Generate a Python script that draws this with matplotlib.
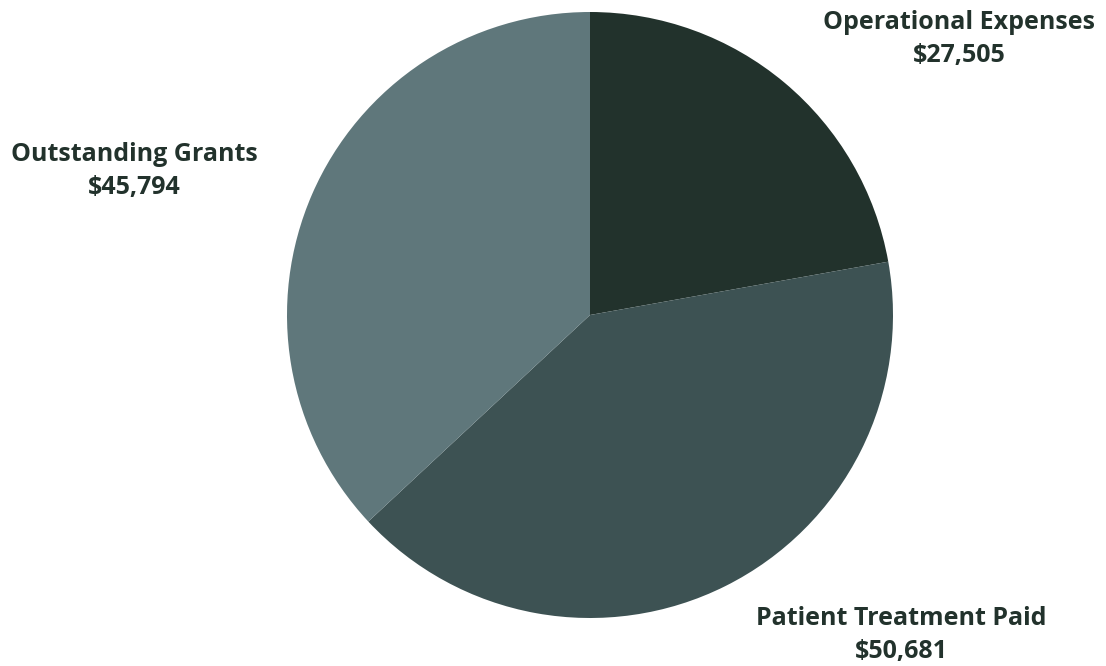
import matplotlib.pyplot as plt

# Data
CATEGORIES = ["Operational Expenses", "Patient Treatment Paid", "Outstanding Grants"]
AMOUNTS = [27505, 50681, 45794]

# Style
COLORS = ["#22322c", "#3d5253", "#5f777b"]
TEXT_COLOR = "#22322c"
# label centres in pixel coords (x, y from bottom)
LABEL_POS = [(959, 627), (901, 31), (134, 495)]


def main():
    fig = plt.figure(figsize=(11.06, 6.66), dpi=100)
    ax = fig.add_axes([0, 0, 1, 1])
    ax.set_xlim(0, 1106)
    ax.set_ylim(0, 666)
    ax.set_aspect("equal")
    ax.axis("off")

    ax.pie(AMOUNTS, colors=COLORS, startangle=90, counterclock=False,
           center=(590, 351), radius=303, wedgeprops=dict(linewidth=0))
    ax.set_xlim(0, 1106)
    ax.set_ylim(0, 666)

    for name, val, (x, y) in zip(CATEGORIES, AMOUNTS, LABEL_POS):
        ax.text(x, y, f"{name}\n${val:,}", ha="center", va="center",
                fontsize=18, fontweight="bold", family="Open Sans",
                color=TEXT_COLOR, linespacing=1.46)

    fig.savefig("out.png", dpi=100, facecolor="white")


if __name__ == "__main__":
    main()
